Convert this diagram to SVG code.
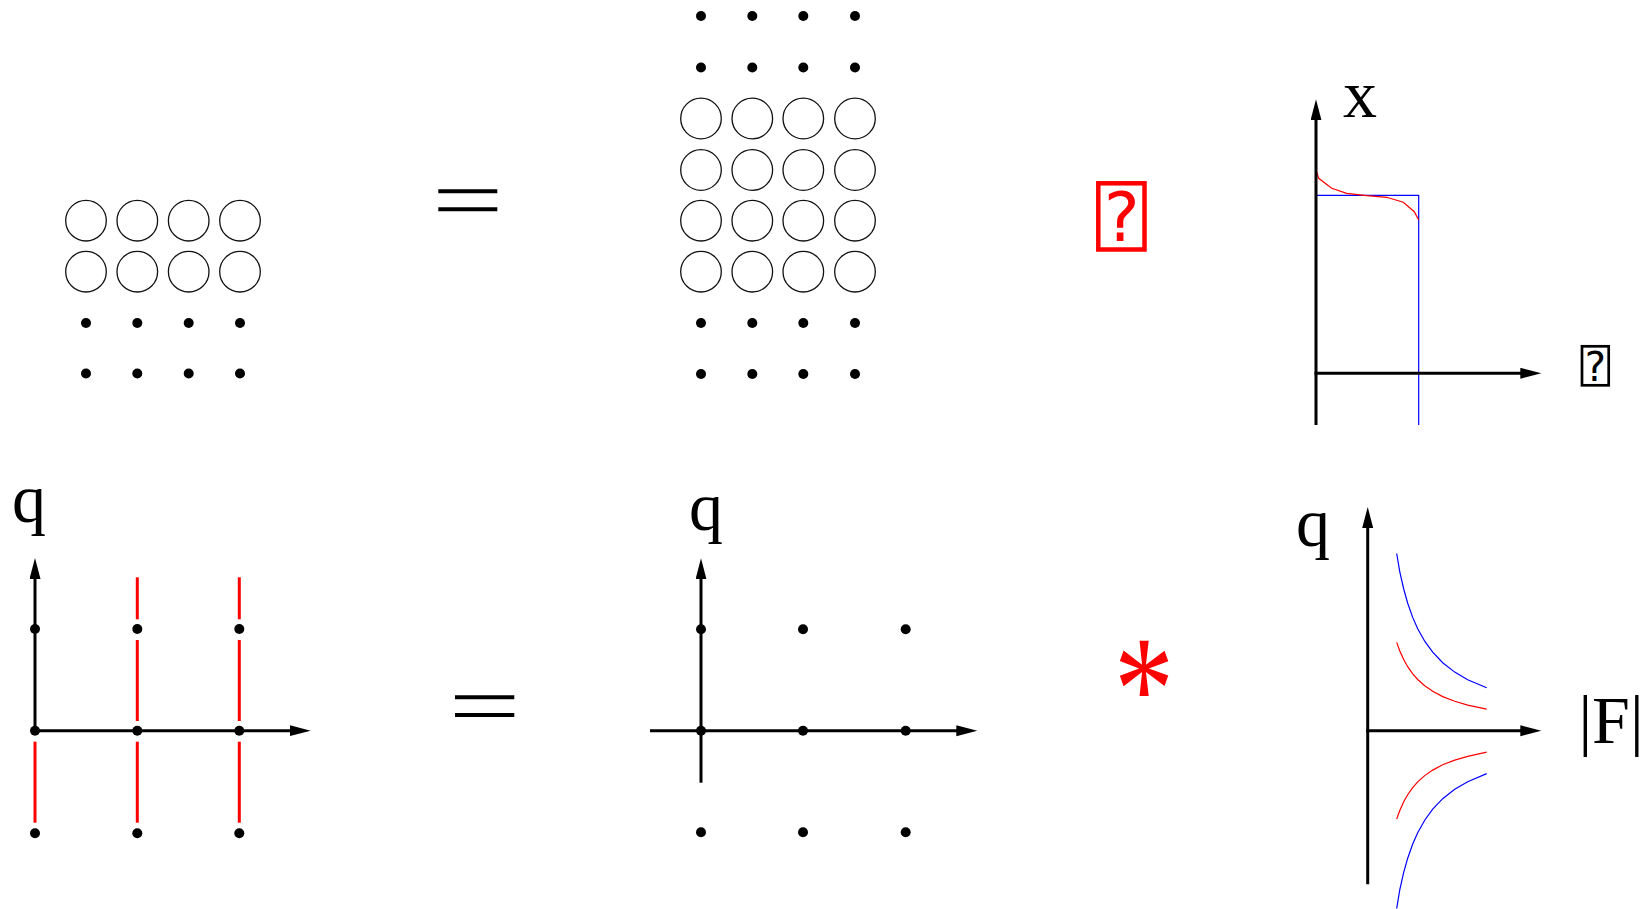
<svg xmlns="http://www.w3.org/2000/svg" width="1648" height="909" viewBox="0 0 1648 909">
<style>
.ring{fill:none;stroke:#111;stroke-width:1.3}
.dot{fill:#000}
.axis{stroke:#000;stroke-width:3;fill:none;marker-end:url(#arr)}
.eq{stroke:#000;stroke-width:4}
.red{stroke:#f00;stroke-width:3;fill:none}
.thinred{stroke:#f00;stroke-width:1.2;fill:none}
.thinblue{stroke:#00f;stroke-width:1.2;fill:none}
.lbl{font-family:"Liberation Serif","Times New Roman",serif;font-size:68px;fill:#000}
</style>
<defs>
<marker id="arr" markerUnits="userSpaceOnUse" markerWidth="22" markerHeight="12" refX="1" refY="5.5" orient="auto">
<path d="M0,0 L21,5.5 L0,11 z" fill="#000"/>
</marker>
</defs>
<rect width="1648" height="909" fill="#fff"/>

<g id="grid-top-left">
<circle class="ring" cx="86" cy="220.7" r="20.3"/><circle class="ring" cx="137.3" cy="220.7" r="20.3"/><circle class="ring" cx="188.7" cy="220.7" r="20.3"/><circle class="ring" cx="240" cy="220.7" r="20.3"/>
<circle class="ring" cx="86" cy="271.7" r="20.3"/><circle class="ring" cx="137.3" cy="271.7" r="20.3"/><circle class="ring" cx="188.7" cy="271.7" r="20.3"/><circle class="ring" cx="240" cy="271.7" r="20.3"/>
<circle class="dot" cx="86" cy="323" r="5"/><circle class="dot" cx="137.3" cy="323" r="5"/><circle class="dot" cx="188.7" cy="323" r="5"/><circle class="dot" cx="240" cy="323" r="5"/>
<circle class="dot" cx="86" cy="373.5" r="5"/><circle class="dot" cx="137.3" cy="373.5" r="5"/><circle class="dot" cx="188.7" cy="373.5" r="5"/><circle class="dot" cx="240" cy="373.5" r="5"/>
</g>

<g id="equals-top">
<line class="eq" x1="438.3" y1="191.3" x2="497.3" y2="191.3"/>
<line class="eq" x1="438.3" y1="209.3" x2="497.3" y2="209.3"/>
</g>

<g id="grid-top-center">
<circle class="dot" cx="701" cy="16" r="5"/><circle class="dot" cx="752.3" cy="16" r="5"/><circle class="dot" cx="803.3" cy="16" r="5"/><circle class="dot" cx="855" cy="16" r="5"/>
<circle class="dot" cx="701" cy="67.5" r="5"/><circle class="dot" cx="752.3" cy="67.5" r="5"/><circle class="dot" cx="803.3" cy="67.5" r="5"/><circle class="dot" cx="855" cy="67.5" r="5"/>
<circle class="ring" cx="701" cy="118.5" r="20.3"/><circle class="ring" cx="752.3" cy="118.5" r="20.3"/><circle class="ring" cx="803.3" cy="118.5" r="20.3"/><circle class="ring" cx="855" cy="118.5" r="20.3"/>
<circle class="ring" cx="701" cy="170" r="20.3"/><circle class="ring" cx="752.3" cy="170" r="20.3"/><circle class="ring" cx="803.3" cy="170" r="20.3"/><circle class="ring" cx="855" cy="170" r="20.3"/>
<circle class="ring" cx="701" cy="220.7" r="20.3"/><circle class="ring" cx="752.3" cy="220.7" r="20.3"/><circle class="ring" cx="803.3" cy="220.7" r="20.3"/><circle class="ring" cx="855" cy="220.7" r="20.3"/>
<circle class="ring" cx="701" cy="271.7" r="20.3"/><circle class="ring" cx="752.3" cy="271.7" r="20.3"/><circle class="ring" cx="803.3" cy="271.7" r="20.3"/><circle class="ring" cx="855" cy="271.7" r="20.3"/>
<circle class="dot" cx="701" cy="323" r="5"/><circle class="dot" cx="752.3" cy="323" r="5"/><circle class="dot" cx="803.3" cy="323" r="5"/><circle class="dot" cx="855" cy="323" r="5"/>
<circle class="dot" cx="701" cy="374" r="5"/><circle class="dot" cx="752.3" cy="374" r="5"/><circle class="dot" cx="803.3" cy="374" r="5"/><circle class="dot" cx="855" cy="374" r="5"/>
</g>

<g id="red-qbox">
<rect x="1098.3" y="183.3" width="46.2" height="66.2" fill="none" stroke="#f00" stroke-width="4.5"/>
<text x="1121.7" y="240.7" text-anchor="middle" font-family="DejaVu Sans, sans-serif" font-size="67" fill="#f00">?</text>
</g>

<g id="plot-top-right">
<polyline class="thinblue" points="1316,195.3 1418.7,195.3 1418.7,425"/>
<polyline class="thinred" points="1316,170 1318.7,178.3 1331.7,188.3 1346.7,193.3 1366.7,195.7 1386.7,197.3 1403.3,202.3 1414.3,211.7 1418.7,220"/>
<text class="lbl" x="1343" y="117.3" font-size="65">x</text>
<rect x="1582" y="346.3" width="26.7" height="39" fill="none" stroke="#000" stroke-width="2.7"/>
<text x="1595.3" y="380.7" text-anchor="middle" font-family="DejaVu Sans, sans-serif" font-size="40" fill="#000">?</text>
</g>

<g id="lattice-bottom-left">
<line class="red" x1="35" y1="741.7" x2="35" y2="822.7"/>
<line class="red" x1="137.3" y1="577.3" x2="137.3" y2="619.3"/>
<line class="red" x1="137.3" y1="640" x2="137.3" y2="721"/>
<line class="red" x1="137.3" y1="741.7" x2="137.3" y2="822.7"/>
<line class="red" x1="239.3" y1="577.3" x2="239.3" y2="619.3"/>
<line class="red" x1="239.3" y1="640" x2="239.3" y2="721"/>
<line class="red" x1="239.3" y1="741.7" x2="239.3" y2="822.7"/>
<text class="lbl" x="12" y="522">q</text>
</g>

<g id="equals-bottom">
<line class="eq" x1="455" y1="697.3" x2="514.3" y2="697.3"/>
<line class="eq" x1="455" y1="715" x2="514.3" y2="715"/>
</g>

<g id="lattice-bottom-center">
<text class="lbl" x="689" y="530">q</text>
</g>

<g id="star">
<text transform="translate(1144,0) scale(1,1.25)" x="0" y="591.2" text-anchor="middle" font-family="Liberation Serif, serif" font-size="120" fill="#f00">*</text>
</g>

<g id="plot-bottom-right">
<polyline class="thinblue" points="1396.7,553.5 1399.7,571.3 1403.7,589 1407.7,603.2 1412.7,617.4 1417.7,628.7 1424.7,641.2 1432.7,652.2 1442.7,662.7 1454.7,672.1 1467.7,679.7 1486.7,687.8"/>
<polyline class="thinred" points="1396.7,642.4 1399.7,650.7 1403.7,659.6 1407.7,666.7 1412.7,673.8 1417.7,679.5 1424.7,685.8 1432.7,691.3 1442.7,696.6 1454.7,701.3 1467.7,705.1 1486.7,709.2"/>
<polyline class="thinred" points="1396.7,819 1399.7,810.7 1403.7,801.8 1407.7,794.7 1412.7,787.6 1417.7,781.9 1424.7,775.6 1432.7,770.1 1442.7,764.8 1454.7,760.1 1467.7,756.3 1486.7,752.2"/>
<polyline class="thinblue" points="1396.7,908.5 1399.7,890.1 1403.7,872.4 1407.7,858.2 1412.7,844 1417.7,832.7 1424.7,820.2 1432.7,809.2 1442.7,798.7 1454.7,789.3 1467.7,781.7 1486.7,773.6"/>
<text class="lbl" x="1296" y="546">q</text>
<text class="lbl" x="1578.5" y="743.3" font-size="69">|F|</text>
</g>

<g id="connectors">
<line class="axis" x1="1316" y1="425" x2="1316" y2="119.3"/>
<line class="axis" x1="1314.5" y1="373.3" x2="1521.3" y2="373.3"/>
<line class="axis" x1="35" y1="730.7" x2="35" y2="578"/>
<line class="axis" x1="35" y1="730.7" x2="290.7" y2="730.7"/>
<line class="axis" x1="701" y1="782.7" x2="701" y2="578.3"/>
<line class="axis" x1="650" y1="730.7" x2="957.3" y2="730.7"/>
<line class="axis" x1="1367.7" y1="884.3" x2="1367.7" y2="527"/>
<line class="axis" x1="1366.2" y1="730.7" x2="1521.3" y2="730.7"/>
</g>

<g id="lattice-dots">
<circle class="dot" cx="35" cy="629" r="5"/><circle class="dot" cx="137.3" cy="629" r="5"/><circle class="dot" cx="239.3" cy="629" r="5"/>
<circle class="dot" cx="35" cy="730.7" r="5"/><circle class="dot" cx="137.3" cy="730.7" r="5"/><circle class="dot" cx="239.3" cy="730.7" r="5"/>
<circle class="dot" cx="35" cy="833.3" r="5"/><circle class="dot" cx="137.3" cy="833.3" r="5"/><circle class="dot" cx="239.3" cy="833.3" r="5"/>
<circle class="dot" cx="701" cy="629.3" r="5"/><circle class="dot" cx="803" cy="629.3" r="5"/><circle class="dot" cx="905.7" cy="629.3" r="5"/>
<circle class="dot" cx="701" cy="730.7" r="5"/><circle class="dot" cx="803" cy="730.7" r="5"/><circle class="dot" cx="905.7" cy="730.7" r="5"/>
<circle class="dot" cx="701" cy="832.3" r="5"/><circle class="dot" cx="803" cy="832.3" r="5"/><circle class="dot" cx="905.7" cy="832.3" r="5"/>
</g>
</svg>
